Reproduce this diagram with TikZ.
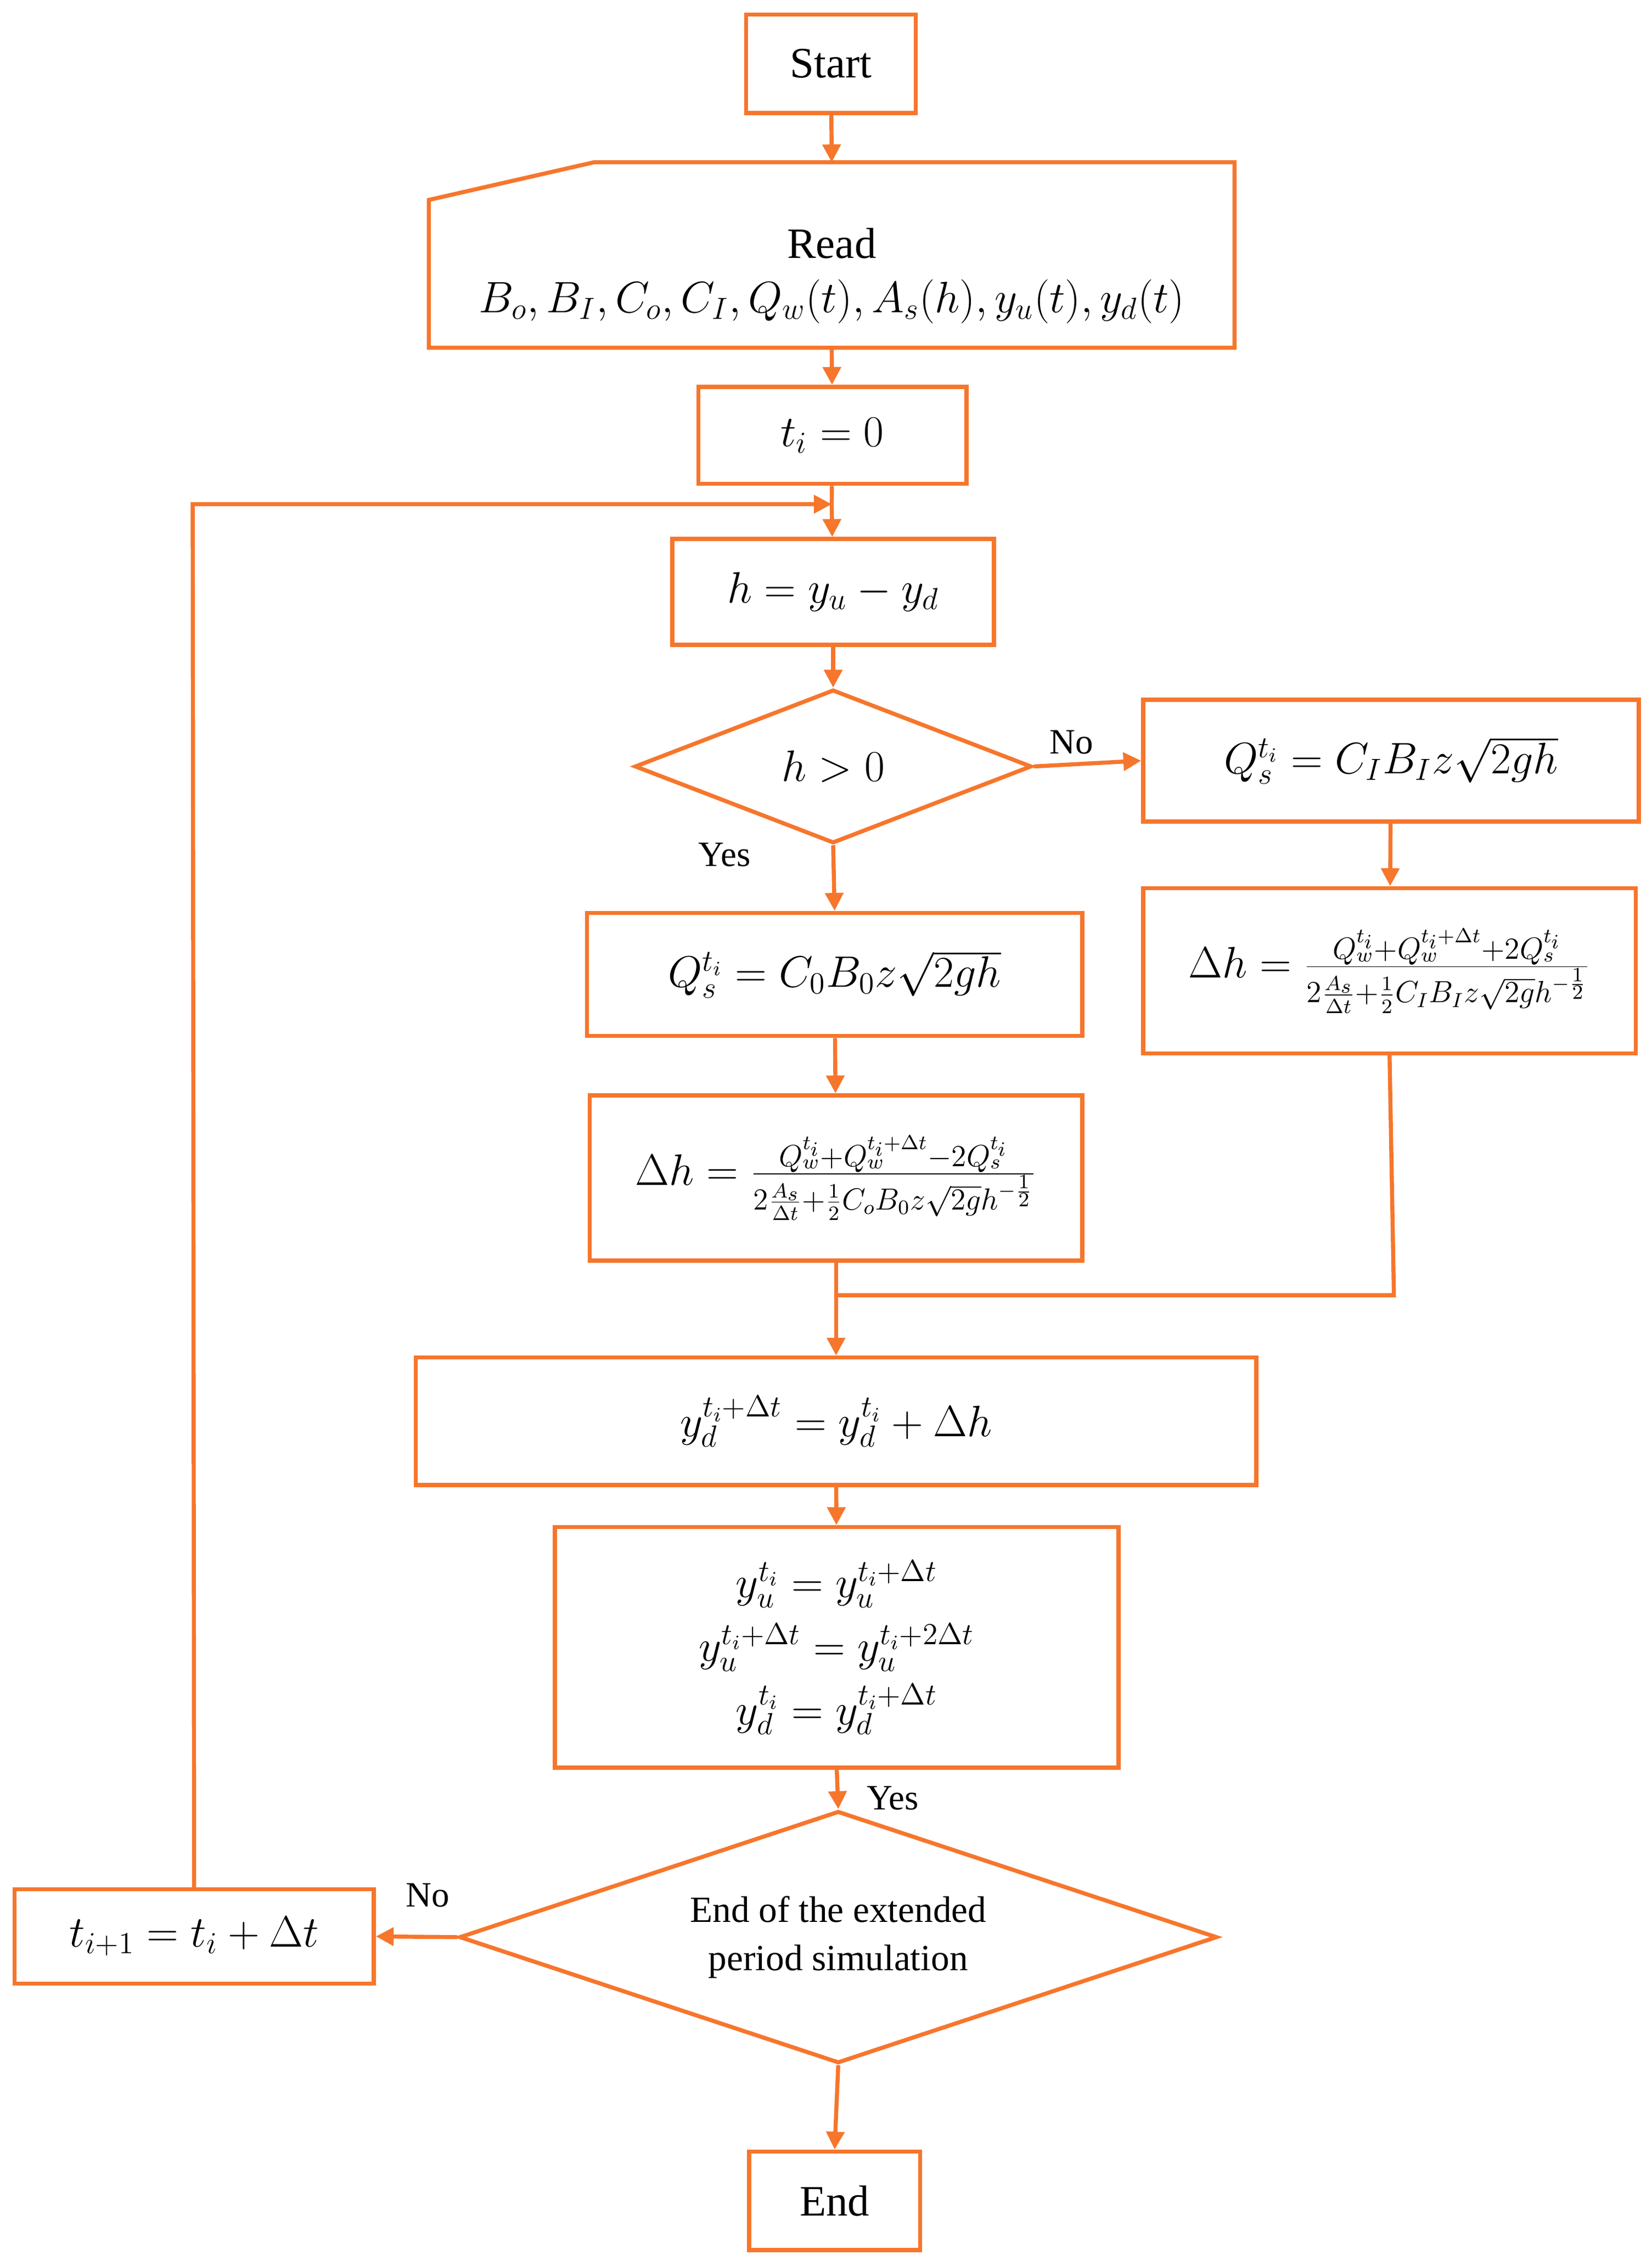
\documentclass[tikz,border=0pt]{standalone}
\usepackage{fontspec}
\setmainfont{Liberation Serif}
\usetikzlibrary{shapes.geometric,arrows.meta}
\definecolor{org}{RGB}{246,118,44}
\begin{document}
\begin{tikzpicture}[x=0.2mm,y=-0.2mm,
  every node/.style={font=\fontsize{17}{21}\selectfont},
  box/.style={draw=org,line width=1.6pt,inner sep=0pt},
  dia/.style={draw=org,line width=1.6pt,diamond,inner sep=0pt},
  ln/.style={draw=org,line width=1.6pt},
  ar/.style={ln,-{Triangle[length=7pt,width=7pt]}},
  lab/.style={font=\fontsize{14}{16}\selectfont}]
\useasboundingbox (0,0) rectangle (1140,1564);
\node[box,minimum width=117*0.2mm,minimum height=68*0.2mm] (start) at (573.5,44) {Start};
\draw[ln] (296,138) -- (410,112) -- (852,112) -- (852,240) -- (296,240) -- cycle;
\coordinate (readt) at (574,112);
\coordinate (readb) at (574,240);
\node (readl) at (574,168) {Read};
\node (readf) at (574,208) {$B_o,B_I,C_o,C_I,Q_w(t),A_s(h),y_u(t),y_d(t)$};
\node[box,minimum width=185*0.2mm,minimum height=67*0.2mm] (t0) at (574.5,300.5) {$t_i=0$};
\node[box,minimum width=222*0.2mm,minimum height=73*0.2mm] (h) at (575,408.5) {$h=y_u-y_d$};
\node[dia,minimum width=274*0.2mm,minimum height=106*0.2mm,aspect=2.6] (d1) at (575,529) {$h>0$};
\node[box,minimum width=342*0.2mm,minimum height=84*0.2mm] (r1) at (960,525) {$Q_s^{t_i}=C_IB_Iz\sqrt{2gh}$};
\node[box,minimum width=340*0.2mm,minimum height=114*0.2mm] (r2) at (959,670) {$\Delta h=\frac{Q_w^{t_i}+Q_w^{t_i+\Delta t}+2Q_s^{t_i}}{2\frac{A_s}{\Delta t}+\frac12 C_IB_Iz\sqrt{2g}h^{-\frac12}}$};
\node[box,minimum width=342*0.2mm,minimum height=85*0.2mm] (l1) at (576,672.5) {$Q_s^{t_i}=C_0B_0z\sqrt{2gh}$};
\node[box,minimum width=340*0.2mm,minimum height=114*0.2mm] (l2) at (577,813) {$\Delta h=\frac{Q_w^{t_i}+Q_w^{t_i+\Delta t}-2Q_s^{t_i}}{2\frac{A_s}{\Delta t}+\frac12 C_oB_0z\sqrt{2g}h^{-\frac12}}$};
\node[box,minimum width=580*0.2mm,minimum height=88*0.2mm] (yd) at (577,981) {$y_d^{t_i+\Delta t}=y_d^{t_i}+\Delta h$};
\node[box,minimum width=389*0.2mm,minimum height=166*0.2mm,align=center] (yu) at (577.5,1137) {$y_u^{t_i}=y_u^{t_i+\Delta t}$\\[4pt]$y_u^{t_i+\Delta t}=y_u^{t_i+2\Delta t}$\\[4pt]$y_d^{t_i}=y_d^{t_i+\Delta t}$};
\node[dia,minimum width=523*0.2mm,minimum height=174*0.2mm,aspect=3,align=center,font=\fontsize{14.5}{19}\selectfont] (d2) at (578.5,1337) {End of the extended\\period simulation};
\node[box,minimum width=248*0.2mm,minimum height=65*0.2mm] (ti1) at (134,1336.5) {$t_{i+1}=t_i+\Delta t$};
\node[box,minimum width=118*0.2mm,minimum height=68*0.2mm] (end) at (576,1519) {End};
\coordinate (j1) at (574,348);
\coordinate (lc) at (133,348);
\coordinate (m1) at (962,894);
\coordinate (m2) at (577,894);
\draw[ar] (start) -- (readt);
\draw[ar] (readb) -- (t0);
\draw[ln] (t0) -- (j1);
\draw[ar] (j1) -- (h);
\draw[ar] (ti1.north) -- (lc) -- (j1);
\draw[ar] (h) -- (d1);
\draw[ar] (d1.east) -- (r1.west) node[lab,pos=0.35,above] {No};
\draw[ar] (r1) -- (r2);
\draw[ar] (d1.south) -- (l1.north);
\node[lab] (yes1) at (500,590) {Yes};
\draw[ar] (l1) -- (l2);
\draw[ln] (r2.south) -- (m1) -- (m2);
\draw[ar] (l2.south) -- (yd.north);
\draw[ar] (yd) -- (yu);
\draw[ar] (yu.south) -- (d2.north);
\node[lab] (yes2) at (616,1241) {Yes};
\draw[ar] (d2.west) -- (ti1.east);
\node[lab] (no2) at (295,1308) {No};
\draw[ar] (d2.south) -- (end.north);
\end{tikzpicture}
\end{document}
